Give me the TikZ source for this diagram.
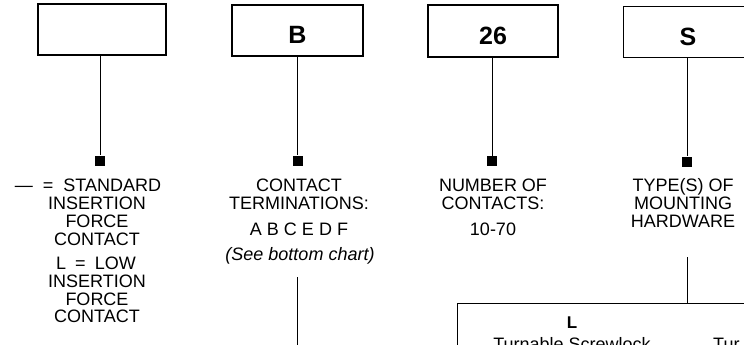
\documentclass[tikz,border=0pt]{standalone}
\usepackage{fontspec}
\setmainfont{Liberation Sans}
\begin{document}
\begin{tikzpicture}[x=1pt,y=-1pt,
  txt/.style={font=\fontsize{18}{18}\selectfont, inner sep=0pt, anchor=base},
  itxt/.style={txt, font=\fontsize{18}{18}\selectfont\itshape},
  codebox/.style={draw, line width=1.3pt, inner sep=0pt, text height=27pt, text depth=0pt,
    font=\fontsize{25}{25}\selectfont\bfseries},
  marker/.style={fill=black, inner sep=0pt, minimum size=10pt},
  conn/.style={line width=1pt}]
\useasboundingbox (0,0) rectangle (744,345);
\clip (0,0) rectangle (744,345);
% code boxes
\node[codebox, minimum width=128pt, minimum height=51pt] (b1) at (102,29.5) {};
\node[codebox, minimum width=131pt, minimum height=51pt] (b2) at (297.5,30.5) {B};
\node[codebox, minimum width=130pt, minimum height=52pt] (b3) at (493,31) {26};
\node[codebox, minimum width=130pt, minimum height=51pt, anchor=north west] (b4) at (623,6) {};
\node[font=\fontsize{25}{25}\selectfont\bfseries, inner sep=0pt, anchor=base] (s4) at (688,46) {S};
% markers
\node[marker] (m1) at (100,160.5) {};
\node[marker] (m2) at (297.5,160.5) {};
\node[marker] (m3) at (492,161) {};
\node[marker] (m4) at (687,161.5) {};
\draw[conn] (b1.south -| m1) -- (m1);
\draw[conn] (b2.south -| m2) -- (m2);
\draw[conn] (b3.south -| m3) -- (m3);
\draw[conn] (b4.south -| m4) -- (m4);
% column 1
\node[txt] (c1a) at (88,191) {—\hspace{10pt}=\hspace{10pt}STANDARD};
\node[txt] (c1b) at (97,209) {INSERTION};
\node[txt] (c1c) at (97,227) {FORCE};
\node[txt] (c1d) at (97,245) {CONTACT};
\node[txt] (c1e) at (96,269) {L\hspace{9pt}=\hspace{9pt}LOW};
\node[txt] (c1f) at (97,287) {INSERTION};
\node[txt] (c1g) at (97,305) {FORCE};
\node[txt] (c1h) at (97,322) {CONTACT};
% column 2
\node[txt] (c2a) at (299,191) {CONTACT};
\node[txt] (c2b) at (299,209) {TERMINATIONS:};
\node[txt] (c2c) at (299,235) {A B C E D F};
\node[itxt] (c2d) at (300,260) {(See bottom chart)};
\coordinate (l2a) at (297,277);
\coordinate (l2b) at (297,350);
\draw[conn] (l2a) -- (l2b);
% column 3
\node[txt] (c3a) at (493,191) {NUMBER OF};
\node[txt] (c3b) at (493,209) {CONTACTS:};
\node[txt] (c3c) at (493,235) {10-70};
% column 4
\node[txt] (c4a) at (683,191) {TYPE(S) OF};
\node[txt] (c4b) at (683,209) {MOUNTING};
\node[txt] (c4c) at (683,227) {HARDWARE};
% bottom chart
\node[draw, line width=1.3pt, inner sep=0pt, minimum width=343pt, minimum height=120pt, anchor=north west] (bb) at (457,303) {};
\coordinate (l4) at (687,257);
\draw[conn] (l4) -- (bb.north -| l4);
\node[txt, font=\fontsize{17}{17}\selectfont\bfseries] (hl) at (572,328) {L};
\node[txt] (t1) at (572,350) {Turnable Screwlock};
\node[txt, anchor=base west] (t2) at (713,350) {Tur};
\end{tikzpicture}
\end{document}
